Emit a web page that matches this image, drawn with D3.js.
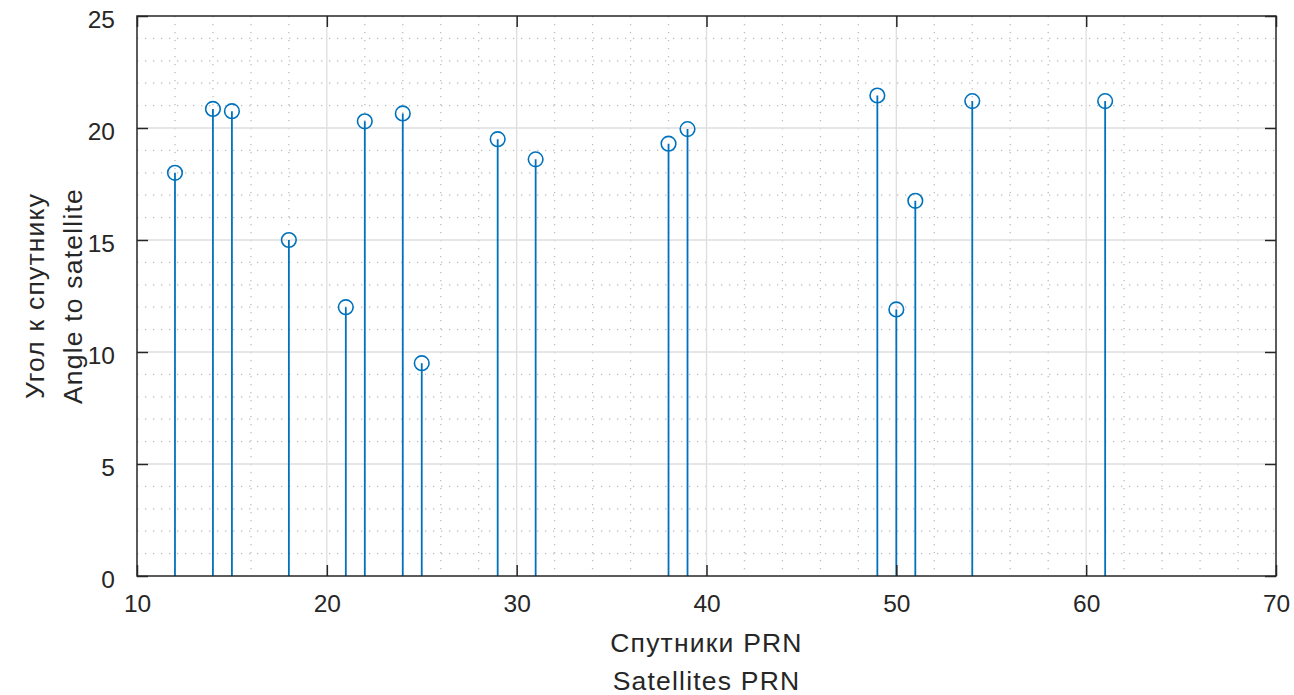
<!DOCTYPE html>
<html lang="ru">
<head>
<meta charset="UTF-8">
<title>Stem chart</title>
<script src="https://cdn.jsdelivr.net/npm/d3@7"></script>
<style>
body { margin: 0; background: #fff; }
text { font-family: "Liberation Sans", Arial, sans-serif; fill: #262626; }
</style>
</head>
<body>
<script>
// satellite PRN numbers and angles
var prn    = [12, 14, 15, 18, 21, 22, 24, 25, 29, 31, 38, 39, 49, 50, 51, 54, 61];
var angles = [18.0, 20.85, 20.75, 15.0, 12.0, 20.3, 20.65, 9.5, 19.5, 18.6, 19.3, 19.95, 21.45, 11.9, 16.75, 21.2, 21.2];
var xTicks = [10, 20, 30, 40, 50, 60, 70];
var yTicks = [0, 5, 10, 15, 20, 25];

var W = 1294, H = 695;
var mLeft = 137, mRight = 1276, mTop = 16, mBottom = 576;

var svg = d3.select("body").append("svg")
    .attr("width", W)
    .attr("height", H);

var x = d3.scaleLinear().domain([10, 70]).range([mLeft, mRight]);
var y = d3.scaleLinear().domain([0, 25]).range([mBottom, mTop]);

// minor grid (dotted)
var g = svg.append("g");
g.selectAll(".mx").data(d3.range(12, 70, 2).filter(function(d){ return d % 10 != 0; }))
    .enter().append("line")
    .attr("x1", function(d){ return x(d); }).attr("x2", function(d){ return x(d); })
    .attr("y1", mTop).attr("y2", mBottom)
    .attr("stroke", "#bdbdbd").attr("stroke-width", 1.3).attr("stroke-dasharray", "1.3,6.7");
g.selectAll(".my").data(d3.range(1, 25).filter(function(d){ return d % 5 != 0; }))
    .enter().append("line")
    .attr("y1", function(d){ return y(d); }).attr("y2", function(d){ return y(d); })
    .attr("x1", mLeft).attr("x2", mRight)
    .attr("stroke", "#bdbdbd").attr("stroke-width", 1.3).attr("stroke-dasharray", "1.3,6.7");

// major grid
g.selectAll(".gx").data(xTicks.slice(1, -1)).enter().append("line")
    .attr("x1", function(d){ return x(d); }).attr("x2", function(d){ return x(d); })
    .attr("y1", mTop).attr("y2", mBottom)
    .attr("stroke", "#dedede").attr("stroke-width", 1.3);
g.selectAll(".gy").data(yTicks.slice(1, -1)).enter().append("line")
    .attr("y1", function(d){ return y(d); }).attr("y2", function(d){ return y(d); })
    .attr("x1", mLeft).attr("x2", mRight)
    .attr("stroke", "#dedede").attr("stroke-width", 1.3);

// stems
svg.selectAll(".stem").data(prn).enter().append("line")
    .attr("x1", function(d){ return x(d); }).attr("x2", function(d){ return x(d); })
    .attr("y1", y(0))
    .attr("y2", function(d, i){ return y(angles[i]); })
    .attr("stroke", "#0072BD").attr("stroke-width", 1.8);

svg.selectAll(".mark").data(prn).enter().append("circle")
    .attr("cx", function(d){ return x(d); })
    .attr("cy", function(d, i){ return y(angles[i]); })
    .attr("r", 7.3)
    .attr("fill", "none")
    .attr("stroke", "#0072BD").attr("stroke-width", 1.6);

// axes box
svg.append("rect")
    .attr("x", mLeft).attr("y", mTop)
    .attr("width", mRight - mLeft).attr("height", mBottom - mTop)
    .attr("fill", "none").attr("stroke", "#262626").attr("stroke-width", 1.5);

var xAxis = svg.append("g").attr("transform", "translate(0," + mBottom + ")")
    .call(d3.axisBottom(x).tickValues(xTicks).tickSize(-11).tickPadding(19));
var xAxisTop = svg.append("g").attr("transform", "translate(0," + mTop + ")")
    .call(d3.axisTop(x).tickValues(xTicks).tickSize(-11).tickFormat(""));
var yAxis = svg.append("g").attr("transform", "translate(" + mLeft + ",0)")
    .call(d3.axisLeft(y).tickValues(yTicks).tickSize(-11).tickPadding(22));
var yAxisR = svg.append("g").attr("transform", "translate(" + mRight + ",0)")
    .call(d3.axisRight(y).tickValues(yTicks).tickSize(-11).tickFormat(""));

[xAxis, xAxisTop, yAxis, yAxisR].forEach(function(a){
    a.select(".domain").remove();
    a.selectAll(".tick line").attr("stroke", "#262626").attr("stroke-width", 1.5);
    a.selectAll("text").attr("font-size", 24.5).attr("fill", "#262626")
        .attr("font-family", "'Liberation Sans', Arial, sans-serif");
});
yAxis.selectAll("text").attr("dy", "0.45em");

// labels
var cx = (mLeft + mRight) / 2, cy = (mTop + mBottom) / 2;
svg.append("text").attr("x", cx).attr("y", 652)
    .attr("text-anchor", "middle").attr("font-size", 26.5).attr("letter-spacing", 1.2).text("Спутники PRN");
svg.append("text").attr("x", cx).attr("y", 690)
    .attr("text-anchor", "middle").attr("font-size", 26.5).attr("letter-spacing", 1.2).text("Satellites PRN");

svg.append("text").attr("transform", "translate(44," + cy + ") rotate(-90)")
    .attr("text-anchor", "middle").attr("font-size", 26.5).attr("letter-spacing", 1.2).text("Угол к спутнику");
svg.append("text").attr("transform", "translate(82," + cy + ") rotate(-90)")
    .attr("text-anchor", "middle").attr("font-size", 26.5).attr("letter-spacing", 1.2).text("Angle to satellite");
</script>
</body>
</html>
